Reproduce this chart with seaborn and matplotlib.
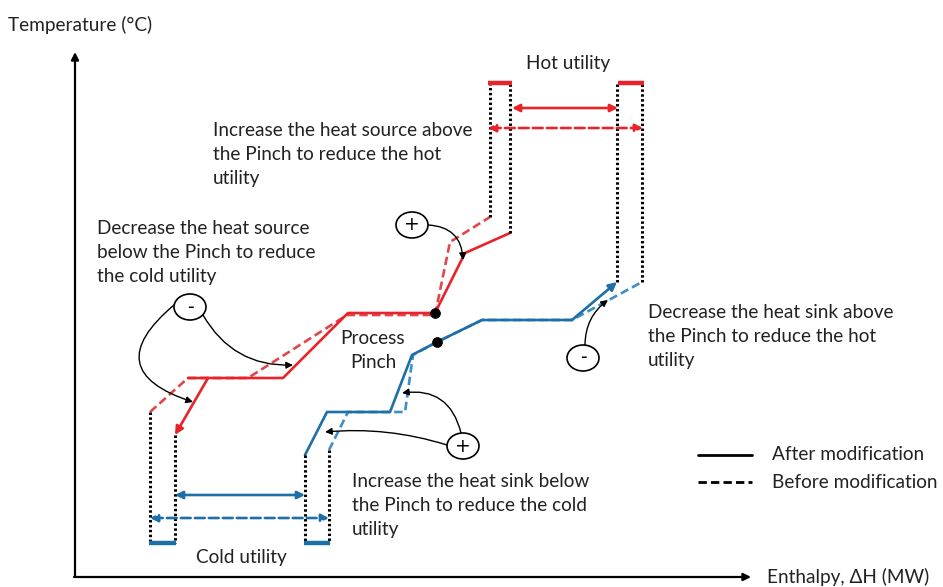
import numpy as np
import matplotlib
matplotlib.use("Agg")
import matplotlib.pyplot as plt
import seaborn as sns
from matplotlib.patches import Ellipse, FancyArrowPatch

sns.set_theme(style="white")
plt.rcParams['font.family'] = ['Lato', 'DejaVu Sans']

# ---- data (enthalpy H, temperature T in schematic units) ----
hot_after_H = [113, 208, 273, 360, 390, 435]
hot_after_T = [199, 199, 264, 264, 324, 344]
hot_after_tail_H = [133, 100]
hot_after_tail_T = [199, 142]
hot_before_H = [75, 113, 173, 272, 360, 375, 415]
hot_before_T = [165, 199, 199, 262, 262, 335, 360]

cold_after_H = [230, 252, 315, 337, 362, 407, 497, 542]
cold_after_T = [122, 165, 165, 222, 235, 257, 257, 295]
cold_before_H = [254, 273, 330, 338, 362, 407, 497, 567]
cold_before_T = [127, 165, 165, 222, 235, 257, 257, 295]

pinch_H = [360, 362]
pinch_T = [264, 235]

hot_util_T = 494
cold_util_T = 34
hot_util_after = [437, 543]
hot_util_before = [413, 568]
cold_util_after = [100, 230]
cold_util_before = [75, 254]

RED = "#e8232a"
RED_D = "#e0474c"
BLUE = "#1d6fa8"
BLUE_D = "#3d8fc6"

fig = plt.figure(figsize=(9.43, 5.87), dpi=100)
ax = fig.add_axes([0, 0, 1, 1])
ax.set_xlim(-75, 868)
ax.set_ylim(-10, 577)
ax.axis("off")

LW = 1.9
dash = (0, (3.2, 1.6))

# composite curves
sns.lineplot(x=hot_before_H, y=hot_before_T, sort=False, estimator=None, ax=ax,
             color=RED_D, lw=LW, linestyle=dash)
sns.lineplot(x=hot_after_H, y=hot_after_T, sort=False, estimator=None, ax=ax,
             color=RED, lw=LW)
sns.lineplot(x=cold_before_H, y=cold_before_T, sort=False, estimator=None, ax=ax,
             color=BLUE_D, lw=LW, linestyle=dash)
sns.lineplot(x=cold_after_H[:-1], y=cold_after_T[:-1], sort=False, estimator=None, ax=ax,
             color=BLUE, lw=LW)

# arrowed ends
ax.annotate("", xy=(hot_after_tail_H[1], hot_after_tail_T[1]),
            xytext=(hot_after_tail_H[0], hot_after_tail_T[0]),
            arrowprops=dict(arrowstyle="-|>", color=RED, lw=LW, mutation_scale=12,
                            shrinkA=0, shrinkB=0))
ax.annotate("", xy=(cold_after_H[-1], cold_after_T[-1]),
            xytext=(cold_after_H[-2], cold_after_T[-2]),
            arrowprops=dict(arrowstyle="-|>", color=BLUE, lw=LW, mutation_scale=12,
                            shrinkA=0, shrinkB=0))

# pinch points
sns.scatterplot(x=pinch_H, y=pinch_T, ax=ax, color="black", s=50, zorder=5, edgecolor="black")

# dotted utility boundaries
dot = (0, (0.8, 0.8))
tops = [(hot_before_H[-1], hot_before_T[-1]), (hot_after_H[-1], hot_after_T[-1]),
        (cold_after_H[-1], cold_after_T[-1]), (cold_before_H[-1], cold_before_T[-1])]
for h, t in tops:
    ax.plot([h, h], [t, hot_util_T], color="black", lw=2.2, linestyle=dot)
bots = [(hot_before_H[0], hot_before_T[0]), (hot_after_tail_H[1], hot_after_tail_T[1]),
        (cold_after_H[0], cold_after_T[0]), (cold_before_H[0], cold_before_T[0])]
for h, t in bots:
    ax.plot([h, h], [t, cold_util_T], color="black", lw=2.2, linestyle=dot)

# utility bars
ax.plot([hot_before_H[-1] - 2, hot_after_H[-1] + 2], [hot_util_T, hot_util_T], color=RED, lw=3.2, solid_capstyle="butt")
ax.plot([cold_after_H[-1] + 1, cold_before_H[-1] + 2], [hot_util_T, hot_util_T], color=RED, lw=3.2, solid_capstyle="butt")
ax.plot([hot_before_H[0] - 1, hot_after_tail_H[1] + 1], [cold_util_T, cold_util_T], color=BLUE, lw=3.2, solid_capstyle="butt")
ax.plot([cold_after_H[0] - 1, cold_before_H[0] + 1], [cold_util_T, cold_util_T], color=BLUE, lw=3.2, solid_capstyle="butt")

# utility double arrows
def dbl(x0, x1, y, color, ls):
    ax.annotate("", xy=(x1, y), xytext=(x0, y),
                arrowprops=dict(arrowstyle="<|-|>", color=color, lw=1.9, linestyle=ls,
                                mutation_scale=11, shrinkA=0, shrinkB=0))

dbl(hot_util_after[0], hot_util_after[1], 469, RED, "-")
dbl(hot_util_before[0], hot_util_before[1], 449, RED, "--")
dbl(cold_util_after[0], cold_util_after[1], 82, BLUE, "-")
dbl(cold_util_before[0], cold_util_before[1], 59, BLUE, "--")

# axes arrows
ax.annotate("", xy=(0, 525), xytext=(0, 0),
            arrowprops=dict(arrowstyle="-|>", color="black", lw=1.6, mutation_scale=11,
                            shrinkA=0, shrinkB=0))
ax.annotate("", xy=(676, 0), xytext=(-1, 0),
            arrowprops=dict(arrowstyle="-|>", color="black", lw=1.6, mutation_scale=11,
                            shrinkA=0, shrinkB=0))

# circles with signs
circles = [(337, 352, "+"), (115, 270, "-"), (388, 131, "+"), (508, 219, "-")]
for h, t, s in circles:
    ax.add_patch(Ellipse((h, t), 32, 26, fill=False, edgecolor="black", lw=1.2, zorder=6))
    ax.text(h, t, s, ha="center", va="center", fontsize=13.5, color="black", zorder=7,
            family=["DejaVu Sans"])

# curved annotation arrows
def carrow(p0, p1, rad):
    ax.add_patch(FancyArrowPatch(p0, p1, connectionstyle=f"arc3,rad={rad}",
                                 arrowstyle="-|>", mutation_scale=10, color="black",
                                 lw=1.0, shrinkA=0, shrinkB=0, zorder=6))

carrow((353, 352), (388, 317), -0.45)
carrow((128, 262), (218, 212), 0.3)
carrow((99, 272), (118, 175), 0.9)
carrow((372, 132), (250, 145), 0.1)
carrow((386, 144), (327, 184), 0.45)
carrow((510, 232), (533, 277), -0.25)

# texts
fs = 13.7
tc = "#222222"
ls = 1.5
ax.text(-67, 552, "Temperature (°C)", fontsize=fs, color=tc, ha="left", va="center")
ax.text(692, 0, "Enthalpy, ΔH (MW)", fontsize=fs, color=tc, ha="left", va="center")
ax.text(493, 514, "Hot utility", fontsize=fs, color=tc, ha="center", va="center")
ax.text(166, 19, "Cold utility", fontsize=fs, color=tc, ha="center", va="center")
ax.text(138, 455, "Increase the heat source above\nthe Pinch to reduce the hot\nutility",
        fontsize=fs, color=tc, ha="left", va="top", linespacing=ls)
ax.text(22, 357, "Decrease the heat source\nbelow the Pinch to reduce\nthe cold utility",
        fontsize=fs, color=tc, ha="left", va="top", linespacing=ls)
ax.text(298, 227, "Process\nPinch", fontsize=fs, color=tc, ha="center", va="center",
        linespacing=ls)
ax.text(573, 273, "Decrease the heat sink above\nthe Pinch to reduce the hot\nutility",
        fontsize=fs, color=tc, ha="left", va="top", linespacing=ls)
ax.text(277, 104, "Increase the heat sink below\nthe Pinch to reduce the cold\nutility",
        fontsize=fs, color=tc, ha="left", va="top", linespacing=ls)

# legend
ax.plot([623, 677], [122, 122], color="black", lw=2.0)
ax.plot([623, 677], [95, 95], color="black", lw=2.0, linestyle=(0, (3, 1.5)))
ax.text(697, 122, "After modification", fontsize=fs, color=tc, ha="left", va="center")
ax.text(697, 95, "Before modification", fontsize=fs, color=tc, ha="left", va="center")

fig.savefig("out.png", dpi=100, facecolor="white")
